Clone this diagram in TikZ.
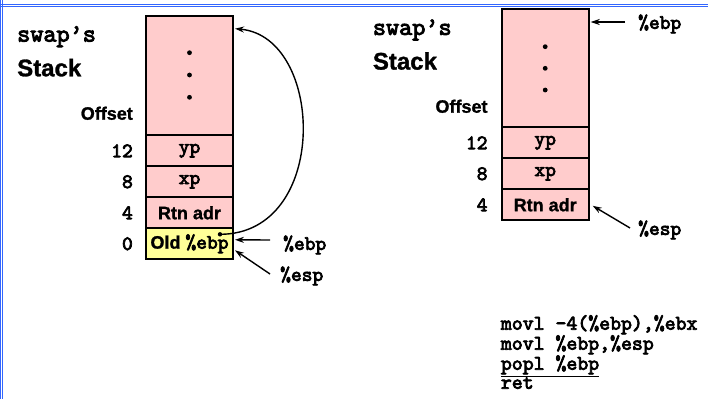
\documentclass[tikz,border=0pt]{standalone}
\usepackage{fontspec}
\setmainfont{Liberation Sans}[BoldFeatures={FakeBold=1.2}]
\setmonofont{lmmono10-regular.otf}[BoldFont=lmmono10-regular.otf, BoldFeatures={FakeBold=3.5}]
\usepackage{tikz}
\usetikzlibrary{positioning}
\usetikzlibrary{arrows.meta}

\definecolor{stackpink}{RGB}{255,204,204}
\definecolor{oldyellow}{RGB}{255,255,153}
\definecolor{frameblue}{RGB}{51,102,255}

\tikzset{
	cell/.style={draw, line width=1.8pt, fill=stackpink, minimum width=87pt, minimum height=31pt, inner sep=0pt, outer sep=0pt, font=\fontsize{18}{20}\selectfont\bfseries},
	off/.style={inner sep=0pt, font=\fontsize{20.5}{22}\selectfont\ttfamily\bfseries},
	lbl/.style={inner sep=0pt, font=\fontsize{18}{20}\selectfont\bfseries},
	reg/.style={inner sep=0pt, font=\fontsize{20.5}{22}\selectfont\ttfamily\bfseries},
	ptr/.style={-{Stealth[length=9pt,width=6pt]}, line width=1.4pt}
}
\newcommand{\regname}[1]{{\fontsize{20.5}{22}\selectfont\ttfamily\bfseries #1}}

\begin{document}
\begin{tikzpicture}[x=1pt,y=-1pt]
	\useasboundingbox (0,0) rectangle (708,399);
	% Frame %
	\draw [frameblue, line width=0.8pt] (0,4.3) -- (708,4.3) (0,6.3) -- (708,6.3);
	\draw [frameblue, line width=0.8pt] (0.7,0) -- (0.7,399) (2.4,0) -- (2.4,399);
	% Stack before popl %
	\node [cell, minimum height=119.6pt] (lrest) at (189.5,75.5) {};
	\node [cell, below=0pt of lrest] (lyp) {\regname{yp}};
	\node [cell, below=0pt of lyp] (lxp) {\regname{xp}};
	\node [cell, below=0pt of lxp] (lrtn) {Rtn adr};
	\node [cell, fill=oldyellow, below=0pt of lrtn] (lold) {Old \regname{\%ebp}};
	\foreach \d in {37,59.3,81.6} \fill ([yshift=-\d pt]lrest.north) circle (2.4pt);
	\node [anchor=west, inner sep=0pt, font=\fontsize{25}{27}\selectfont\ttfamily\bfseries] (ltitle) at ([shift={(-129pt,-21pt)}]lrest.north west) {swap’s};
	\node [anchor=west, inner sep=0pt, font=\fontsize{24}{26}\selectfont\bfseries] (lstack) at ([yshift=-31pt]ltitle.west) {Stack};
	\node [lbl, anchor=east] (loffset) at ([shift={(-13pt,22pt)}]lrest.south west) {Offset};
	\node [off, left=13pt of lyp] (l12) {12};
	\node [off, left=13pt of lxp] (l8) {8};
	\node [off, left=13pt of lrtn] (l4) {4};
	\node [off, left=13pt of lold] (l0) {0};
	\node [reg, anchor=west] (lebp) at (283,245) {\%ebp};
	\node [reg, anchor=west] (lesp) at (280,276) {\%esp};
	\draw [ptr] ([shift={(-13pt,5pt)}]lebp.west) -- ([shift={(2pt,4pt)}]lold.east);
	\draw [ptr] ([shift={(-10pt,2pt)}]lesp.west) -- ([shift={(2pt,9pt)}]lold.south east);
	\coordinate (lsaved) at ([shift={(-13pt,-6pt)}]lold.north east);
	\fill (lsaved) circle (2.2pt);
	\draw [ptr] (lsaved) .. controls +(110,0) and +(90,8) .. ([shift={(2pt,-13pt)}]lrest.north east);
	% Stack after popl %
	\node [cell, minimum height=118.3pt] (rrest) at (545.2,68.15) {};
	\node [cell, below=0pt of rrest] (ryp) {\regname{yp}};
	\node [cell, below=0pt of ryp] (rxp) {\regname{xp}};
	\node [cell, below=0pt of rxp] (rrtn) {Rtn adr};
	\foreach \d in {37.7,59.3,81} \fill ([yshift=-\d pt]rrest.north) circle (2.4pt);
	\node [anchor=west, inner sep=0pt, font=\fontsize{25}{27}\selectfont\ttfamily\bfseries] (rtitle) at ([shift={(-129pt,-21pt)}]rrest.north west) {swap’s};
	\node [anchor=west, inner sep=0pt, font=\fontsize{24}{26}\selectfont\bfseries] (rstack) at ([yshift=-31pt]rtitle.west) {Stack};
	\node [lbl, anchor=east] (roffset) at ([shift={(-14pt,21pt)}]rrest.south west) {Offset};
	\node [off, left=14pt of ryp] (r12) {12};
	\node [off, left=14pt of rxp] (r8) {8};
	\node [off, left=14pt of rrtn] (r4) {4};
	\node [reg, anchor=west] (rebp) at (638,24) {\%ebp};
	\node [reg, anchor=west] (resp) at (638,230) {\%esp};
	\draw [ptr] ([shift={(-13pt,2pt)}]rebp.west) -- ([shift={(2pt,-13pt)}]rrest.north east);
	\draw [ptr] ([shift={(-8pt,2pt)}]resp.west) -- ([shift={(4pt,-1pt)}]rrtn.east);
	% Code %
	\node [reg, anchor=north west, align=left, font=\fontsize{20.8}{19}\selectfont\ttfamily\bfseries] (code) at (500.7,315) {movl -4(\%ebp),\%ebx\\movl \%ebp,\%esp\\\underline{popl \%ebp}\\ret};
\end{tikzpicture}
\end{document}
